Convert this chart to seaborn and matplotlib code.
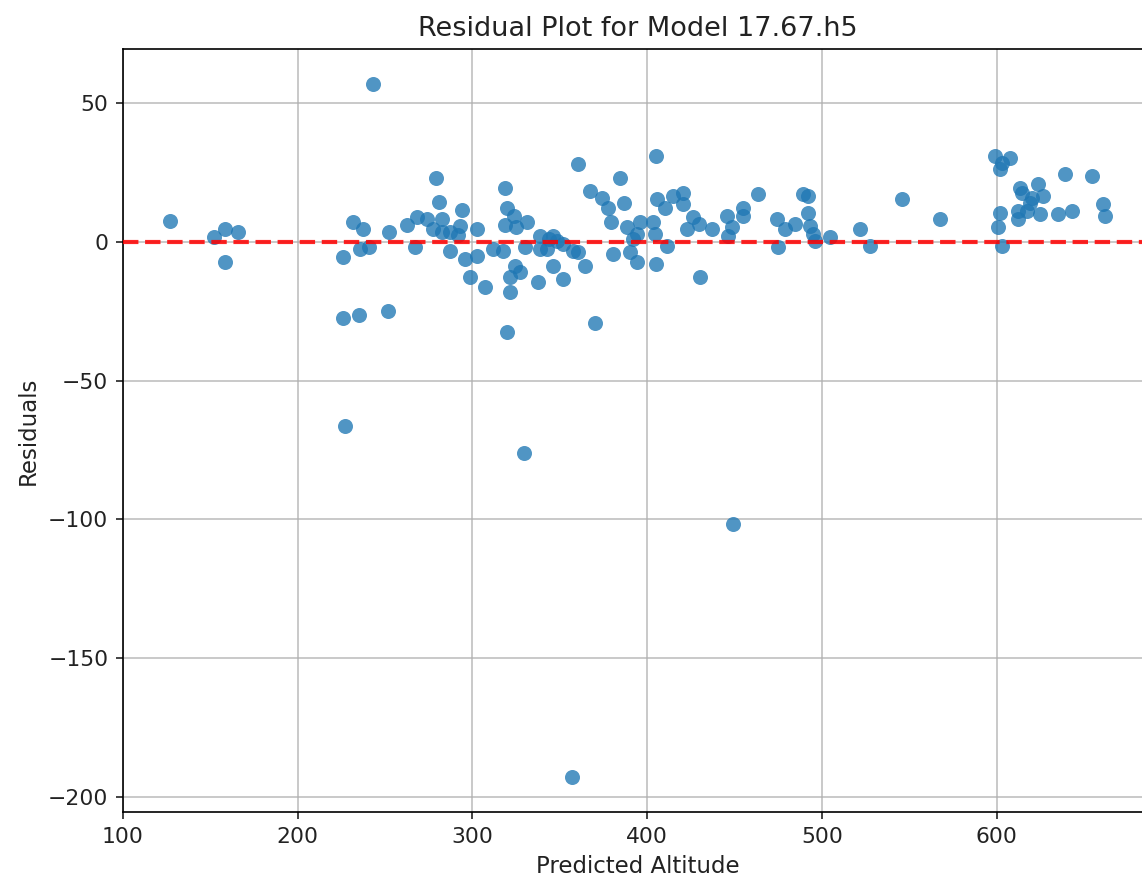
import matplotlib
matplotlib.use("Agg")
import matplotlib.pyplot as plt
import seaborn as sns
import pandas as pd

predicted = [
    126.9, 152.1, 158.4, 166.0, 158.4, 242.9, 225.8, 231.5, 237.2, 235.7,
    241.0, 252.4, 225.8, 235.3, 251.5, 227.0, 262.7, 268.1, 267.1, 273.8,
    279.2, 281.1, 277.6, 282.4, 282.4, 287.2, 287.2, 293.9, 292.9, 291.5,
    295.8, 302.5, 302.5, 298.6, 307.2, 312.0, 317.7, 318.7, 319.8, 323.6,
    318.7, 325.0, 331.1, 324.4, 327.2, 321.5, 321.5, 330.1, 338.7, 338.7,
    342.5, 343.6, 346.3, 346.3, 337.8, 352.0, 348.3, 352.0, 357.8, 360.6,
    364.5, 360.6, 367.3, 374.0, 377.8, 384.5, 386.8, 379.1, 380.7, 388.3,
    390.2, 394.4, 396.0, 394.0, 392.1, 403.5, 404.5, 405.1, 405.1, 405.5,
    410.2, 411.2, 415.0, 420.7, 420.7, 426.4, 422.7, 429.5, 430.3, 437.0,
    445.6, 448.4, 446.5, 455.1, 455.1, 463.7, 474.2, 475.2, 478.9, 484.7,
    489.4, 492.3, 492.3, 493.2, 495.1, 496.1, 504.7, 521.9, 527.6, 545.7,
    567.7, 599.1, 607.7, 603.0, 602.0, 602.0, 601.1, 603.0, 612.5, 612.5,
    613.4, 614.4, 623.9, 620.1, 619.2, 626.8, 617.3, 624.9, 635.4, 643.0,
    639.2, 654.5, 661.1, 662.1, 319.8, 370.2, 329.5, 449.0, 357.0,
]
residuals = [
    7.5, 1.9, 4.8, 3.6, -7.2, 56.9, -5.6, 7.0, 4.6, -2.6,
    -2.0, 3.6, -27.5, -26.3, -25.1, -66.5, 6.0, 9.1, -2.0, 8.1,
    23.1, 14.3, 4.6, 8.1, 3.4, 3.4, -3.2, 11.5, 5.7, 2.5,
    -6.2, 4.6, -5.0, -12.8, -16.4, -2.6, -3.2, 19.5, 12.3, 9.3,
    6.0, 5.5, 7.0, -8.6, -11.0, -12.8, -18.1, -2.0, 2.2, -2.6,
    -2.6, 1.0, 2.2, -8.6, -14.6, -13.4, 0.4, -0.8, -3.2, -3.8,
    -8.6, 27.9, 18.3, 15.9, 12.3, 23.1, 14.1, 7.0, -4.4, 5.2,
    -3.8, -7.4, 7.0, 2.8, 1.0, 7.0, 2.8, 30.8, -8.0, 15.3,
    12.3, -1.4, 16.5, 17.7, 13.5, 8.8, 4.6, 6.3, -12.8, 4.6,
    9.3, 5.2, 2.2, 12.3, 9.3, 17.1, 8.1, -2.0, 4.6, 6.3,
    17.1, 16.5, 10.5, 5.7, 2.8, 0.4, 1.6, 4.6, -1.4, 15.3,
    8.1, 30.8, 30.3, 28.5, 26.1, 10.5, 5.2, -1.4, 11.1, 8.1,
    19.5, 17.7, 20.7, 15.9, 14.1, 16.5, 11.1, 9.9, 9.9, 11.1,
    24.3, 23.7, 13.5, 9.3, -32.5, -29.2, -76.2, -101.7, -193.0,
]

df = pd.DataFrame({"Predicted Altitude": predicted, "Residuals": residuals})

fig = plt.figure(figsize=(1142 / 150, 882 / 150), dpi=150)
ax = fig.add_axes([123 / 1142, 1 - 812 / 882, (1152 - 123) / 1142, (812 - 49) / 882])

sns.scatterplot(data=df, x="Predicted Altitude", y="Residuals", ax=ax,
                alpha=0.78, s=52, linewidth=0, color="#1f77b4", zorder=3)
ax.axhline(0, color="red", linestyle="--", linewidth=2, alpha=0.85, zorder=4)

ax.set_xlim(100, 689)
ax.set_ylim(-205.5, 69.5)
ax.set_xticks([100, 200, 300, 400, 500, 600])
ax.set_yticks([-200, -150, -100, -50, 0, 50])
ax.grid(True, color="#b0b0b0", linewidth=0.8, alpha=0.8, zorder=0)
ax.set_axisbelow(True)
ax.tick_params(labelsize=10.5, colors="#222222", labelcolor="#222222")
ax.set_xlabel("Predicted Altitude", fontsize=11, color="#222222")
ax.set_ylabel("Residuals", fontsize=11, color="#222222")
ax.set_title("Residual Plot for Model 17.67.h5", fontsize=13, color="#222222")

fig.savefig("out.png", dpi=150)
